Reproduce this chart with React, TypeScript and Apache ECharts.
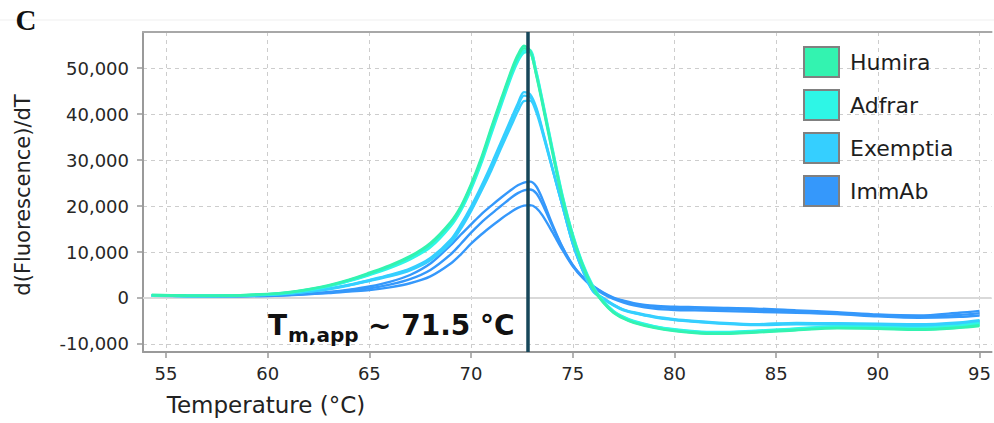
import React, { useEffect, useRef } from "react";
import * as echarts from "echarts";

// ---- data ----
const TEMPERATURES = [54.3, 56, 58, 60, 61, 62, 63, 64, 65, 66, 67, 68, 69, 69.5, 70, 70.5, 71, 71.5, 72, 72.3, 72.6, 72.9, 73.2, 73.5, 74, 74.5, 75, 75.5, 76, 76.5, 77, 77.5, 78, 79, 80, 81, 82, 84, 86, 88, 90, 92, 94, 95];

const HUMIRA_1 = [600, 500, 550, 900, 1250, 1900, 2800, 4000, 5500, 7100, 9100, 12000, 16600, 20000, 24800, 30500, 37200, 43600, 49800, 52900, 54850, 53800, 48500, 42300, 31500, 21300, 13200, 6800, 2000, -1000, -3200, -4500, -5400, -6500, -7200, -7600, -7800, -7500, -7000, -6600, -6700, -6900, -6500, -6100];
const HUMIRA_2 = [700, 550, 500, 850, 1200, 1850, 2700, 3900, 5300, 6900, 8900, 11700, 16300, 19700, 24500, 30100, 36800, 43200, 49300, 52400, 54300, 53700, 48700, 42600, 31900, 21600, 13400, 7000, 2200, -900, -3100, -4400, -5300, -6400, -7100, -7500, -7700, -7400, -6900, -6500, -6600, -6800, -6400, -5900];
const ADFRAR_1 = [500, 500, 500, 800, 1150, 1750, 2600, 3750, 5100, 6700, 8600, 11300, 15900, 19300, 24000, 29600, 36200, 42600, 48800, 51900, 53800, 53900, 49200, 43000, 32300, 22000, 13700, 7200, 2400, -700, -2900, -4200, -5100, -6200, -6900, -7300, -7500, -7200, -6700, -6300, -6400, -6600, -6200, -5700];
const ADFRAR_2 = [600, 450, 500, 750, 1100, 1700, 2500, 3650, 5000, 6500, 8400, 11000, 15600, 19000, 23600, 29200, 35700, 42100, 48300, 51400, 53300, 53500, 49400, 43300, 32600, 22300, 13900, 7400, 2600, -600, -2800, -4100, -5000, -6100, -6800, -7200, -7400, -7100, -6600, -6200, -6300, -6500, -6000, -5500];
const EXEMPTIA_1 = [600, 450, 500, 750, 1000, 1450, 2050, 2900, 3900, 5000, 6400, 8700, 12700, 16000, 19900, 24300, 29100, 34200, 39300, 42300, 44750, 44300, 41500, 36800, 28300, 20000, 11800, 5800, 1400, -200, -1600, -2700, -3300, -4200, -4800, -5200, -5500, -5900, -5700, -5800, -6000, -6100, -5700, -5300];
const EXEMPTIA_2 = [500, 450, 450, 700, 950, 1400, 2000, 2800, 3800, 4900, 6200, 8500, 12400, 15600, 19500, 23900, 28600, 33700, 38700, 41700, 44000, 43700, 41100, 36500, 28100, 19900, 11800, 5900, 1500, -100, -1500, -2600, -3200, -4100, -4700, -5100, -5400, -5800, -5500, -5600, -5800, -5900, -5500, -5000];
const EXEMPTIA_3 = [600, 500, 450, 700, 900, 1350, 1900, 2700, 3700, 4700, 6000, 8200, 12000, 15100, 18900, 23200, 27800, 32800, 37700, 40600, 42800, 42900, 40500, 36100, 28000, 19900, 11900, 6000, 1600, 0, -1400, -2500, -3100, -4000, -4600, -5000, -5300, -5700, -5400, -5500, -5600, -5700, -5300, -4800];
const IMMAB_1 = [500, 450, 400, 550, 700, 950, 1300, 1800, 2500, 3500, 5000, 7500, 11500, 13800, 16000, 18200, 20100, 21900, 23600, 24500, 25100, 25300, 24300, 21600, 16000, 11000, 7200, 4500, 2600, 1200, 100, -600, -1100, -1700, -1900, -2000, -2100, -2300, -2700, -3100, -3600, -3800, -3200, -2800];
const IMMAB_2 = [600, 450, 400, 500, 650, 900, 1200, 1650, 2100, 2900, 4100, 6100, 9500, 11800, 14200, 16400, 18300, 20100, 21900, 22800, 23400, 23600, 22800, 20500, 15600, 10900, 7100, 4500, 2500, 1100, 0, -700, -1300, -1900, -2200, -2300, -2400, -2600, -2900, -3300, -3800, -4100, -3700, -3300];
const IMMAB_3 = [500, 400, 350, 450, 600, 800, 1050, 1400, 1700, 2300, 3200, 4700, 7500, 9500, 11800, 13800, 15600, 17300, 18800, 19600, 20100, 20200, 19600, 18000, 14300, 10400, 6900, 4300, 2300, 900, -200, -1000, -1600, -2300, -2600, -2700, -2800, -3000, -3200, -3500, -4000, -4300, -4100, -3800];

const PRODUCTS = ["Humira", "Adfrar", "Exemptia", "ImmAb"];
const PRODUCT_COLORS: Record<string, string> = {
  Humira: "#33f3b0",
  Adfrar: "#2ef6e6",
  Exemptia: "#35cfff",
  ImmAb: "#3598fb",
};

// drawing order: bottom group first
const CURVES = [
  { name: "ImmAb", values: IMMAB_1 },
  { name: "ImmAb", values: IMMAB_2 },
  { name: "ImmAb", values: IMMAB_3 },
  { name: "Exemptia", values: EXEMPTIA_1 },
  { name: "Exemptia", values: EXEMPTIA_2 },
  { name: "Exemptia", values: EXEMPTIA_3 },
  { name: "Adfrar", values: ADFRAR_1 },
  { name: "Adfrar", values: ADFRAR_2 },
  { name: "Humira", values: HUMIRA_1 },
  { name: "Humira", values: HUMIRA_2 },
];

const X_TICKS = [55, 60, 65, 70, 75, 80, 85, 90, 95];
const Y_TICKS = [-10000, 0, 10000, 20000, 30000, 40000, 50000];
const X_MIN = 53.87;
const X_MAX = 95.59;
const Y_MIN = -11740;
const Y_MAX = 57830;
const TM_LINE = 72.8;

const FONT = '"DejaVu Sans", Verdana, sans-serif';
const AXIS_GRAY = "#9a9a9a";
const GRID_GRAY = "#cdcdcd";

function buildOption(): any {
  const curveSeries = CURVES.map((c) => ({
    type: "line",
    name: c.name,
    data: TEMPERATURES.map((t, i) => [t, c.values[i]]),
    smooth: 0.3,
    showSymbol: false,
    symbol: "none",
    silent: true,
    z: 3,
    lineStyle: { width: 2.4, color: PRODUCT_COLORS[c.name] },
    itemStyle: { color: PRODUCT_COLORS[c.name] },
  }));

  return {
    animation: false,
    backgroundColor: "#ffffff",
    grid: { left: 143, right: 0, top: 32, bottom: 71, containLabel: false },
    legend: {
      data: PRODUCTS,
      orient: "vertical",
      left: 803,
      top: 46,
      padding: 0,
      itemWidth: 35,
      itemHeight: 30,
      itemGap: 11,
      icon: "rect",
      selectedMode: false,
      itemStyle: { borderColor: "#808080", borderWidth: 2 },
      textStyle: { fontFamily: FONT, fontSize: 22, color: "#1e1e1e", padding: [0, 0, 0, 6] },
    },
    xAxis: [
      {
        type: "value",
        min: X_MIN,
        max: X_MAX,
        axisLine: { show: true, onZero: false, lineStyle: { color: AXIS_GRAY, width: 2 } },
        axisTick: { show: true, length: 6, customValues: X_TICKS, lineStyle: { color: AXIS_GRAY, width: 1.5 } },
        axisLabel: { customValues: X_TICKS, margin: 12, fontFamily: FONT, fontSize: 18, color: "#262626" },
        splitLine: { show: true, lineStyle: { type: [4, 4], color: GRID_GRAY, width: 1 } },
      },
      {
        type: "value",
        position: "top",
        min: X_MIN,
        max: X_MAX,
        axisLine: { show: true, onZero: false, lineStyle: { color: "#a8a8a8", width: 2 } },
        axisTick: { show: false },
        axisLabel: { show: false },
        splitLine: { show: false },
      },
    ],
    yAxis: {
      type: "value",
      min: Y_MIN,
      max: Y_MAX,
      axisLine: { show: true, onZero: false, lineStyle: { color: AXIS_GRAY, width: 2 } },
      axisTick: { show: true, length: 6, customValues: Y_TICKS, lineStyle: { color: AXIS_GRAY, width: 1.5 } },
      axisLabel: {
        customValues: Y_TICKS,
        margin: 14,
        fontFamily: FONT,
        fontSize: 18,
        color: "#262626",
        formatter: (v: number) => Math.round(v).toLocaleString("en-US"),
      },
      splitLine: { show: true, lineStyle: { type: [4, 4], color: GRID_GRAY, width: 1 } },
    },
    series: [
      {
        type: "line",
        name: "zero",
        data: [],
        silent: true,
        z: 1,
        markLine: {
          silent: true,
          z: 1,
          symbol: "none",
          label: { show: false },
          lineStyle: { color: "#d9d9d9", width: 2, type: "solid" },
          data: [{ yAxis: 0 }],
        },
      },
      ...curveSeries,
      {
        type: "line",
        name: "tm",
        data: [],
        silent: true,
        z: 6,
        markLine: {
          silent: true,
          z: 6,
          symbol: "none",
          label: { show: false },
          lineStyle: { color: "#17475a", width: 3.5, type: "solid" },
          data: [{ xAxis: TM_LINE }],
        },
      },
    ],
    graphic: [
      {
        type: "line",
        silent: true,
        z: 0,
        shape: { x1: 0, y1: 20, x2: 994, y2: 20 },
        style: { stroke: "#efefef", lineWidth: 1 },
      },
      {
        type: "text",
        x: 26,
        y: 19.5,
        z: 10,
        style: { text: "C", font: 'bold 29px "Liberation Serif", serif', fill: "#111111", align: "center", verticalAlign: "middle" },
      },
      {
        type: "text",
        x: 23,
        y: 195,
        rotation: Math.PI / 2,
        z: 10,
        style: { text: "d(Fluorescence)/dT", font: `21px ${FONT}`, fill: "#222222", align: "center", verticalAlign: "middle" },
      },
      {
        type: "text",
        x: 266,
        y: 405,
        z: 10,
        style: { text: "Temperature (°C)", font: `23px ${FONT}`, fill: "#222222", align: "center", verticalAlign: "middle" },
      },
      {
        type: "text",
        x: 268,
        y: 325.3,
        z: 10,
        style: { text: "T", font: `bold 28px ${FONT}`, fill: "#111111", align: "left", verticalAlign: "middle" },
      },
      {
        type: "text",
        x: 288,
        y: 335,
        z: 10,
        style: { text: "m,app", font: `bold 20px ${FONT}`, fill: "#111111", align: "left", verticalAlign: "middle" },
      },
      {
        type: "text",
        x: 368,
        y: 325.3,
        z: 10,
        style: { text: "~ 71.5 °C", font: `bold 28px ${FONT}`, fill: "#111111", align: "left", verticalAlign: "middle" },
      },
    ],
  };
}

export default function App() {
  const ref = useRef<HTMLDivElement>(null);
  useEffect(() => {
    if (!ref.current) return;
    const chart = echarts.init(ref.current, null, { renderer: "svg" });
    chart.setOption(buildOption());
    return () => chart.dispose();
  }, []);
  return (
    <div
      ref={ref}
      style={{ position: "fixed", left: 0, top: 0, width: 994, height: 423, background: "#ffffff" }}
    />
  );
}
